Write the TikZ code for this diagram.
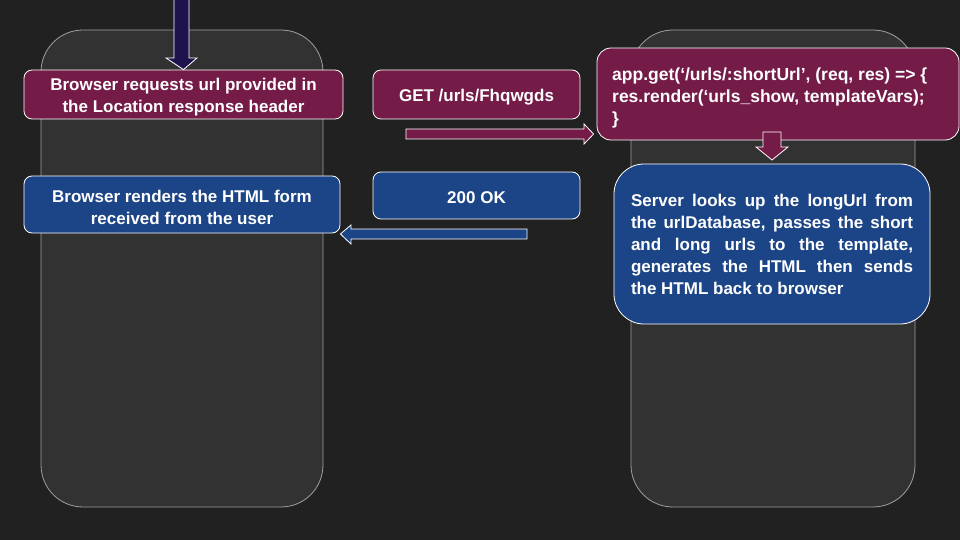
\documentclass[tikz,border=0pt]{standalone}
\usepackage{fontspec}
\setmainfont{Liberation Sans}
\definecolor{bg}{HTML}{212121}
\definecolor{phone}{HTML}{323232}
\definecolor{phoneline}{HTML}{A0A0A0}
\definecolor{mag}{HTML}{741B47}
\definecolor{blu}{HTML}{1C4587}
\definecolor{navy}{HTML}{20124D}
\tikzset{
  phonebox/.style={draw=phoneline, fill=phone, line width=0.8pt, rounded corners=42pt},
  card/.style={draw=white, line width=0.8pt, rounded corners=8pt, text=white, font=\bfseries\fontsize{17}{22}\selectfont, align=center, inner sep=0pt},
  lower/.style={execute at begin node={\rule{0pt}{#1}}},
  cardtext/.style={text=white, font=\bfseries\fontsize{17}{22}\selectfont, align=center, inner sep=0pt, yshift=-2.5pt},
  magcard/.style={card, fill=mag},
  blucard/.style={card, fill=blu},
  blockarrow/.style={draw=white, line width=0.8pt}
}
\begin{document}
\begin{tikzpicture}[x=1pt,y=-1pt]
\fill[bg] (0,0) rectangle (960,540);
\useasboundingbox (0,0) rectangle (960,540);
% phones
\draw[phonebox] (41,30) rectangle (323,507);
\draw[phonebox] (631,30) rectangle (915,507);
% boxes
\node[magcard, minimum width=319pt, minimum height=49pt, label={[cardtext]center:{Browser requests url provided in\\the Location response header}}] (req) at (183.5,94.5) {};
\node[magcard, lower=17pt, minimum width=207pt, minimum height=49pt] (get) at (476.5,94.5) {GET /urls/Fhqwgds};
\node[magcard, minimum width=362pt, minimum height=92pt, rounded corners=14pt] (code) at (778,94) {};
\node[anchor=west, text=white, font=\bfseries\fontsize{17.5}{22}\selectfont, align=left, inner sep=0pt] (codetxt) at (612,97.5) {app.get(‘/urls/:shortUrl’, (req, res) => \{\\res.render(‘urls\_show, templateVars);\\\}};
\node[blucard, lower=17pt, minimum width=207pt, minimum height=47pt] (ok) at (476.5,195.5) {200 OK};
\node[blucard, minimum width=316pt, minimum height=57pt, label={[cardtext]center:{Browser renders the HTML form\\received from the user}}] (render) at (182,204.5) {};
\node[blucard, minimum width=316pt, minimum height=160pt, rounded corners=30pt, text width=282pt, align=justify] (server) at (772,244) {Server looks up the longUrl from\linebreak the urlDatabase, passes the short\linebreak and long urls to the template,\linebreak generates the HTML then sends\linebreak the HTML back to browser};
% top arrow into req
\draw[blockarrow, fill=navy] (174,-1) -- (174,58) -- (166,58) -- (req.north) -- (197,58) -- (189,58) -- (189,-1) -- cycle;
% right arrow GET -> code
\draw[blockarrow, fill=mag] (406,129) -- (584,129) -- (584,124) -- ([xshift=-3pt]code.west |- 0,134) -- (584,144) -- (584,139) -- (406,139) -- cycle;
% small arrow code -> server
\draw[blockarrow, fill=mag] (763,132) -- (763,147) -- (756,147) -- (772,160) -- (788,147) -- (781,147) -- (781,132) -- cycle;
% left arrow ok -> render
\draw[blockarrow, fill=blu] (527,229) -- (351,229) -- (351,225) -- (render.east |- 0,234) -- (351,244) -- (351,239) -- (527,239) -- cycle;
\end{tikzpicture}
\end{document}
